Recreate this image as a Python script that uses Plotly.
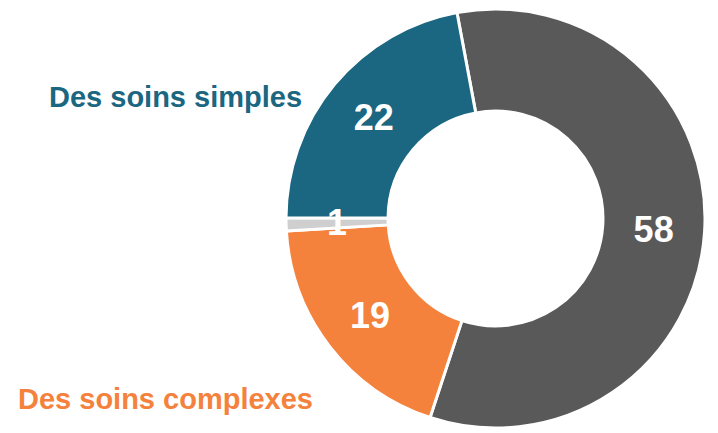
import math
import plotly.graph_objects as go

# Data
categories = ["Autres", "Des soins complexes", "Non réponse", "Des soins simples"]
values = [58, 19, 1, 22]
colors = ["#595959", "#F5823C", "#CFCFCF", "#1B6680"]

label_texts = ["Des soins simples", "Des soins complexes"]
label_colors = ["#1B6680", "#F5823C"]

W, H = 718, 433
OFF = 8  # page body margin: figure starts 8px into the page
FONT = "Liberation Sans, Arial, sans-serif"
ROTATION = 349.4
HOLE = 0.513


def fx(px):
    return (px - OFF) / W


def fy(py):
    return 1 - (py - OFF) / H


# pie geometry (page pixels)
x0, x1 = 286, 705
y0, y1 = 9, 428
cx, cy = (x0 + x1) / 2, (y0 + y1) / 2
R = (x1 - x0) / 2

# slices too thin for plotly's inside text get an annotation instead
total = sum(values)
textpos = ["inside" if v / total > 0.03 else "none" for v in values]

fig = go.Figure()
fig.add_trace(go.Pie(
    labels=categories,
    values=values,
    sort=False,
    direction="clockwise",
    rotation=ROTATION,
    hole=HOLE,
    marker=dict(colors=colors, line=dict(color="white", width=3)),
    textinfo="value",
    textposition=textpos,
    insidetextorientation="horizontal",
    textfont=dict(family=FONT, size=36, color="white", weight="bold"),
    domain=dict(x=[fx(x0), fx(x1)], y=[fy(y1), fy(y0)]),
    showlegend=False,
    hoverinfo="label+value",
))

cum = 0
for v, tp in zip(values, textpos):
    if tp == "none":
        ang = math.radians(ROTATION + 360 * (cum + v / 2) / total)
        rm = R * (1 + HOLE) / 2
        px = cx + rm * math.sin(ang)
        py = cy - rm * math.cos(ang)
        fig.add_annotation(x=fx(px), y=fy(py), xref="paper", yref="paper",
                           text="<b>%d</b>" % v, showarrow=False,
                           font=dict(family=FONT, size=36, color="white"),
                           xanchor="center", yanchor="middle")
    cum += v

fig.add_annotation(x=fx(175.5), y=fy(97), xref="paper", yref="paper",
                   text="<b>%s</b>" % label_texts[0], showarrow=False,
                   font=dict(family=FONT, size=29, color=label_colors[0]),
                   xanchor="center", yanchor="middle")
fig.add_annotation(x=fx(165), y=fy(399), xref="paper", yref="paper",
                   text="<b>%s</b>" % label_texts[1], showarrow=False,
                   font=dict(family=FONT, size=29, color=label_colors[1]),
                   xanchor="center", yanchor="middle")

fig.update_layout(
    width=W, height=H,
    margin=dict(l=0, r=0, t=0, b=0),
    paper_bgcolor="white",
    plot_bgcolor="white",
)

fig.write_html("out.html")
